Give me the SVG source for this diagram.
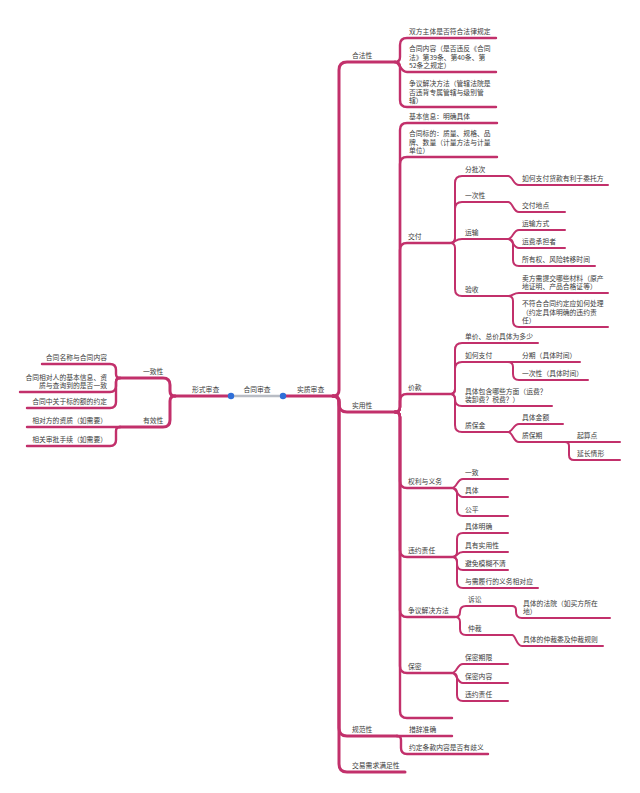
<svg xmlns="http://www.w3.org/2000/svg" width="640" height="793" viewBox="0 0 640 793">
<style>
.c{fill:none;stroke:#c2306b;stroke-linecap:round;stroke-linejoin:round}
.l1{stroke-width:3}
.l2{stroke-width:2.4}
.l3{stroke-width:2}
text{font-family:"Noto Sans CJK SC","Noto Sans",sans-serif;font-size:6.8px;fill:#3a3a3a}
.e{text-anchor:end}
.m{text-anchor:middle}
</style>
<rect width="640" height="793" fill="#ffffff"/>
<g id="connectors">
<path d="M231,396 H283" fill="none" stroke="#b8bcc4" stroke-width="2.4"/>
<g class="c l1">
<path d="M283,396 H333"/>
<path d="M231,396 H175"/>
<path d="M333,396 Q339,396 339,390 V70 Q339,62 347,62 H395"/>
<path d="M333,396 Q339,396 339,402 V404 Q339,412 347,412 H395"/>
<path d="M333,396 Q339,396 339,402 V728 Q339,736 347,736 H397"/>
<path d="M333,396 Q339,396 339,402 V764 Q339,772 347,772 H405"/>
<path d="M175,396 Q170,396 170,391 V385 Q170,378 163,378 H120"/>
<path d="M175,396 Q170,396 170,401 V420 Q170,427 163,427 H120"/>
</g>
<g class="c l2">
<path d="M395,412 Q400,412 400,407 V130 Q400,123 407,123 H497"/>
<path d="M395,412 Q400,412 400,407 V164 Q400,157 407,157 H497"/>
<path d="M395,412 Q400,412 400,407 V250 Q400,243 407,243 H450"/>
<path d="M395,412 Q400,412 400,407 V401 Q400,394 407,394 H450"/>
<path d="M395,412 Q400,412 400,417 V481 Q400,488 407,488 H452"/>
<path d="M395,412 Q400,412 400,417 V550 Q400,557 407,557 H452"/>
<path d="M395,412 Q400,412 400,417 V610 Q400,617 407,617 H455"/>
<path d="M395,412 Q400,412 400,417 V666 Q400,673 407,673 H452"/>
<path d="M395,412 Q400,412 400,417 V711 Q400,718 407,718 H452"/>
<path d="M395,62 Q400,62 400,57 V45 Q400,38 407,38 H496"/>
<path d="M395,62 C400,62 400,72 407,72 H496"/>
<path d="M395,62 Q400,62 400,67 V100 Q400,107 407,107 H496"/>
<path d="M397,736 H452"/>
<path d="M397,736 Q401,736 401,740 V748 Q401,754 407,754 H488"/>
<path d="M120,378 Q116,378 116,374 V370 Q116,364 110,364 H42"/>
<path d="M120,378 Q116,378 116,382 V386 Q116,392 110,392 H20"/>
<path d="M120,378 Q116,378 116,382 V402 Q116,408 110,408 H27"/>
<path d="M120,427 H27"/>
<path d="M120,427 Q116,427 116,431 V440 Q116,446 110,446 H27"/>
</g>
<g class="c l3">
<path d="M450,243 Q455,243 455,238 V183 Q455,176 462,176 H508"/>
<path d="M450,243 Q455,243 455,238 V209 Q455,202 462,202 H508"/>
<path d="M450,243 C455,243 455,239 462,239 H508"/>
<path d="M450,243 Q455,243 455,248 V289 Q455,296 462,296 H508"/>
<path d="M508,176 C513,176 513,185 519,185 H608"/>
<path d="M508,202 C513,202 513,212 519,212 H565"/>
<path d="M508,239 C513,239 513,230 519,230 H565"/>
<path d="M508,239 C513,239 513,248 519,248 H565"/>
<path d="M508,239 Q513,239 513,244 V260 Q513,266 519,266 H595"/>
<path d="M508,296 C513,296 513,293 519,293 H608"/>
<path d="M508,296 Q513,296 513,301 V321 Q513,327 519,327 H608"/>
<path d="M450,394 Q455,394 455,389 V350 Q455,343 462,343 H538"/>
<path d="M450,394 Q455,394 455,389 V369 Q455,362 462,362 H508"/>
<path d="M450,394 Q455,394 455,399 V399 Q455,406 462,406 H552"/>
<path d="M450,394 Q455,394 455,399 V425 Q455,432 462,432 H508"/>
<path d="M508,362 H580"/>
<path d="M508,362 Q513,362 513,367 V374 Q513,380 519,380 H588"/>
<path d="M508,432 C513,432 513,424 519,424 H563"/>
<path d="M508,432 C513,432 513,442 519,442 H565"/>
<path d="M565,442 H620"/>
<path d="M565,442 Q569,442 569,446 V455 Q569,460 574,460 H620"/>
<path d="M452,488 C457,488 457,479 463,479 H508"/>
<path d="M452,488 C457,488 457,497 463,497 H508"/>
<path d="M452,488 Q457,488 457,493 V510 Q457,516 463,516 H508"/>
<path d="M452,557 Q457,557 457,552 V539 Q457,533 463,533 H508"/>
<path d="M452,557 C457,557 457,552 463,552 H508"/>
<path d="M452,557 Q457,557 457,562 V564 Q457,570 463,570 H508"/>
<path d="M452,557 Q457,557 457,562 V582 Q457,588 463,588 H538"/>
<path d="M455,617 Q460,617 460,612 Q460,606 466,606 H512"/>
<path d="M455,617 Q460,617 460,622 V629 Q460,635 466,635 H512"/>
<path d="M512,606 Q516,606 516,610 V612 Q516,618 522,618 H610"/>
<path d="M512,635 C516,635 516,646 522,646 H603"/>
<path d="M452,673 C457,673 457,664 463,664 H508"/>
<path d="M452,673 C457,673 457,683 463,683 H508"/>
<path d="M452,673 Q457,673 457,678 V695 Q457,701 463,701 H508"/>
</g>
<circle cx="231" cy="396" r="3.2" fill="#2f6fd8"/>
<circle cx="283" cy="396" r="3.2" fill="#2f6fd8"/>
</g>
<g id="root"><text x="257" y="392" class="m">合同审查</text></g>
<g id="n-xingshi"><text x="192" y="392">形式审查</text></g>
<g id="n-shizhi"><text x="297" y="392">实质审查</text></g>
<g id="n-yizhixing"><text x="143" y="374">一致性</text></g>
<g id="n-youxiaoxing"><text x="143" y="423">有效性</text></g>
<g id="n-l1"><text x="107" y="360" class="e">合同名称与合同内容</text></g>
<g id="n-l2"><text x="107" y="379.6" class="e">合同相对人的基本信息、资<tspan x="107" dy="8.4">质与查询到的是否一致</tspan></text></g>
<g id="n-l3"><text x="107" y="404" class="e">合同中关于标的额的约定</text></g>
<g id="n-l4"><text x="107" y="423" class="e">相对方的资质（如需要）</text></g>
<g id="n-l5"><text x="107" y="442" class="e">相关审批手续（如需要）</text></g>
<g id="n-hefa"><text x="352" y="58">合法性</text></g>
<g id="n-shiyong"><text x="352" y="408">实用性</text></g>
<g id="n-guifan"><text x="352" y="732">规范性</text></g>
<g id="n-jiaoyi"><text x="352" y="768">交易需求满足性</text></g>
<g id="n-hf1"><text x="409" y="34">双方主体是否符合法律规定</text></g>
<g id="n-hf2"><text x="409" y="51.2">合同内容（是否违反《合同<tspan x="409" dy="8.4">法》第39条、第40条、第</tspan><tspan x="409" dy="8.4">52条之规定）</tspan></text></g>
<g id="n-hf3"><text x="409" y="86.2">争议解决方法（管辖法院是<tspan x="409" dy="8.4">否违背专属管辖与级别管</tspan><tspan x="409" dy="8.4">辖）</tspan></text></g>
<g id="n-jbxx"><text x="409" y="119">基本信息：明确具体</text></g>
<g id="n-htbd"><text x="409" y="136.2">合同标的：质量、规格、品<tspan x="409" dy="8.4">牌、数量（计量方法与计量</tspan><tspan x="409" dy="8.4">单位）</tspan></text></g>
<g id="n-jiaofu"><text x="408" y="239">交付</text></g>
<g id="n-fenpici"><text x="465" y="172">分批次</text></g>
<g id="n-rhzf"><text x="522" y="181">如何支付货款有利于委托方</text></g>
<g id="n-yicixing"><text x="465" y="198">一次性</text></g>
<g id="n-jfdd"><text x="522" y="208">交付地点</text></g>
<g id="n-yunshu"><text x="465" y="235">运输</text></g>
<g id="n-ysfs"><text x="522" y="226">运输方式</text></g>
<g id="n-yfcd"><text x="522" y="244">运费承担者</text></g>
<g id="n-syq"><text x="522" y="262">所有权、风险转移时间</text></g>
<g id="n-yanshou"><text x="465" y="292">验收</text></g>
<g id="n-mfxt"><text x="522" y="280.6">卖方需提交哪些材料（原产<tspan x="522" dy="8.4">地证明、产品合格证等）</tspan></text></g>
<g id="n-bfh"><text x="522" y="306.2">不符合合同约定应如何处理<tspan x="522" dy="8.4">（约定具体明确的违约责</tspan><tspan x="522" dy="8.4">任）</tspan></text></g>
<g id="n-jiakuan"><text x="408" y="390">价款</text></g>
<g id="n-danjia"><text x="465" y="339">单价、总价具体为多少</text></g>
<g id="n-rhzf2"><text x="465" y="358">如何支付</text></g>
<g id="n-fenqi"><text x="522" y="358">分期（具体时间）</text></g>
<g id="n-ycx2"><text x="522" y="376">一次性（具体时间）</text></g>
<g id="n-jtbh"><text x="465" y="393.6">具体包含哪些方面（运费？<tspan x="465" dy="8.4">装卸费？税费？）</tspan></text></g>
<g id="n-zbj"><text x="465" y="428">质保金</text></g>
<g id="n-jtje"><text x="522" y="420">具体金额</text></g>
<g id="n-zbq"><text x="522" y="438">质保期</text></g>
<g id="n-qsd"><text x="577" y="438">起算点</text></g>
<g id="n-ycqx"><text x="577" y="456">延长情形</text></g>
<g id="n-qlyw"><text x="408" y="484">权利与义务</text></g>
<g id="n-yz"><text x="465" y="475">一致</text></g>
<g id="n-jt"><text x="465" y="493">具体</text></g>
<g id="n-gp"><text x="465" y="512">公平</text></g>
<g id="n-wyzr"><text x="408" y="553">违约责任</text></g>
<g id="n-jtmq"><text x="465" y="529">具体明确</text></g>
<g id="n-jysy"><text x="465" y="548">具有实用性</text></g>
<g id="n-bmmh"><text x="465" y="566">避免模糊不清</text></g>
<g id="n-yxlx"><text x="465" y="584">与需履行的义务相对应</text></g>
<g id="n-zyjj"><text x="408" y="613">争议解决方法</text></g>
<g id="n-susong"><text x="468" y="602">诉讼</text></g>
<g id="n-fy"><text x="523" y="605.6">具体的法院（如买方所在<tspan x="523" dy="8.4">地）</tspan></text></g>
<g id="n-zhongcai"><text x="468" y="631">仲裁</text></g>
<g id="n-zcw"><text x="523" y="642">具体的仲裁委及仲裁规则</text></g>
<g id="n-baomi"><text x="408" y="669">保密</text></g>
<g id="n-bmqx"><text x="465" y="660">保密期限</text></g>
<g id="n-bmnr"><text x="465" y="679">保密内容</text></g>
<g id="n-wyzr2"><text x="465" y="697">违约责任</text></g>
<g id="n-empty"></g>
<g id="n-cczq"><text x="409" y="732">措辞准确</text></g>
<g id="n-ydtk"><text x="409" y="750">约定条款内容是否有歧义</text></g>
</svg>
